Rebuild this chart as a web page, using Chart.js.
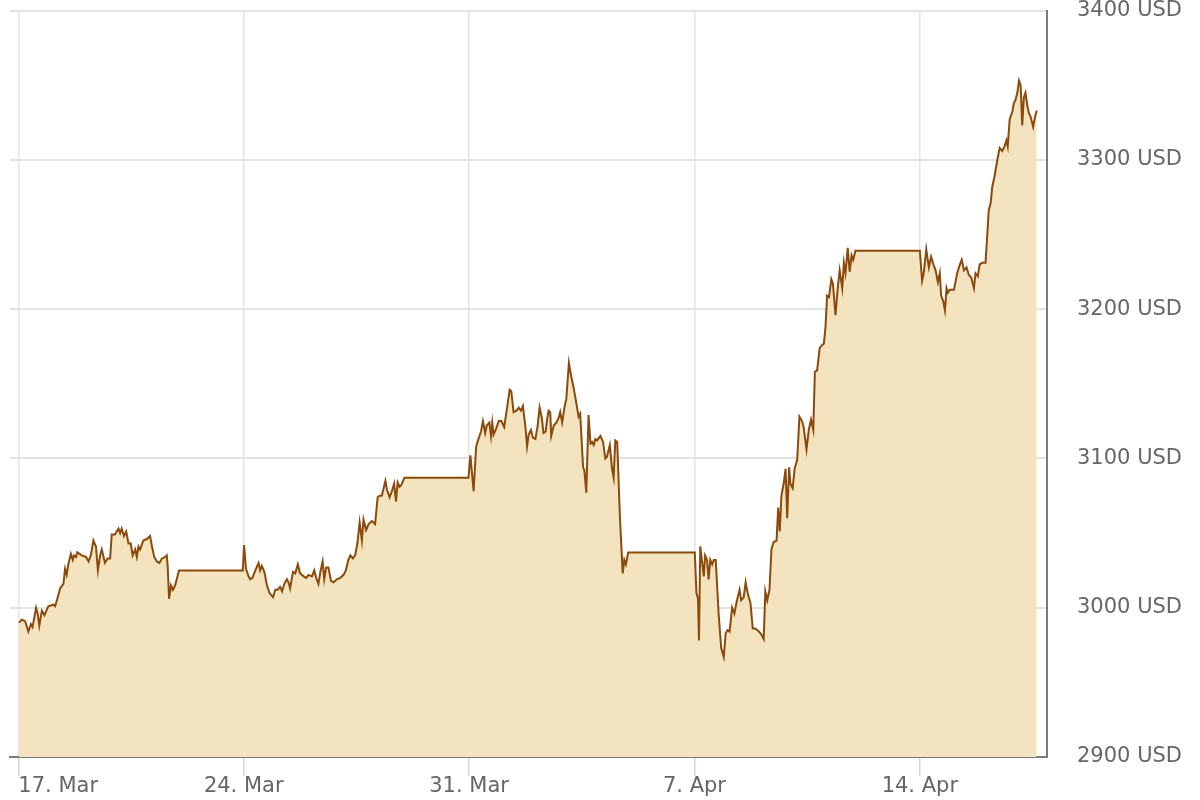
<!DOCTYPE html>
<html>
<head>
<meta charset="utf-8">
<title>Gold price, USD</title>
<script src="https://cdn.jsdelivr.net/npm/chart.js@4.4.1/dist/chart.umd.min.js"></script>
<style>
  html, body { margin: 0; padding: 0; background: #fff; }
  #wrap { width: 1200px; height: 800px; position: relative; }
</style>
</head>
<body>
<div id="wrap"><canvas id="chart"></canvas></div>
<script>
// time in days counted from 17 Mar 00:00, price in USD
const days = [
  0.02, 0.11, 0.21, 0.31, 0.39, 0.44, 0.55, 0.60, 0.65, 0.73,
  0.81, 0.93, 1.09, 1.14, 1.21, 1.30, 1.40, 1.45, 1.50, 1.55,
  1.63, 1.69, 1.73, 1.79, 1.83, 1.97, 2.10, 2.18, 2.25, 2.33,
  2.41, 2.47, 2.54, 2.59, 2.69, 2.77, 2.85, 2.90, 3.00, 3.11,
  3.16, 3.21, 3.28, 3.35, 3.42, 3.49, 3.55, 3.63, 3.68, 3.73,
  3.78, 3.88, 3.99, 4.09, 4.15, 4.22, 4.30, 4.38, 4.46, 4.56,
  4.61, 4.64, 4.68, 4.74, 4.80, 4.87, 4.99, 6.97, 7.01, 7.07,
  7.15, 7.20, 7.27, 7.36, 7.46, 7.51, 7.56, 7.64, 7.72, 7.80,
  7.91, 7.98, 8.05, 8.13, 8.19, 8.26, 8.34, 8.39, 8.44, 8.53,
  8.60, 8.68, 8.75, 8.86, 8.94, 9.01, 9.12, 9.19, 9.25, 9.32,
  9.38, 9.45, 9.50, 9.56, 9.63, 9.71, 9.79, 9.89, 10.00, 10.10,
  10.17, 10.25, 10.31, 10.39, 10.46, 10.53, 10.60, 10.67, 10.72, 10.80,
  10.88, 10.98, 11.08, 11.16, 11.22, 11.29, 11.40, 11.45, 11.53, 11.60,
  11.67, 11.73, 11.78, 11.84, 11.89, 11.99, 13.98, 14.04, 14.09, 14.14,
  14.22, 14.29, 14.37, 14.43, 14.50, 14.55, 14.63, 14.68, 14.72, 14.76,
  14.84, 14.92, 15.00, 15.09, 15.18, 15.26, 15.31, 15.38, 15.47, 15.54,
  15.61, 15.67, 15.75, 15.80, 15.85, 15.92, 15.98, 16.06, 16.13, 16.19,
  16.26, 16.31, 16.38, 16.42, 16.47, 16.52, 16.55, 16.63, 16.71, 16.78,
  16.83, 16.89, 16.96, 17.02, 17.10, 17.17, 17.25, 17.33, 17.40, 17.45,
  17.54, 17.58, 17.64, 17.71, 17.77, 17.82, 17.87, 17.92, 17.97, 18.08,
  18.16, 18.23, 18.28, 18.37, 18.44, 18.49, 18.54, 18.60, 18.68, 18.72,
  18.77, 18.82, 18.87, 18.94, 21.01, 21.06, 21.11, 21.14, 21.18, 21.24,
  21.29, 21.33, 21.39, 21.44, 21.49, 21.55, 21.60, 21.66, 21.75, 21.83,
  21.91, 21.97, 22.03, 22.09, 22.17, 22.24, 22.32, 22.40, 22.45, 22.53,
  22.59, 22.65, 22.74, 22.81, 22.89, 23.00, 23.08, 23.15, 23.20, 23.26,
  23.33, 23.39, 23.46, 23.55, 23.60, 23.65, 23.70, 23.77, 23.83, 23.88,
  23.94, 23.98, 24.05, 24.11, 24.19, 24.26, 24.34, 24.39, 24.48, 24.55,
  24.62, 24.69, 24.74, 24.81, 24.89, 24.97, 25.02, 25.07, 25.12, 25.18,
  25.25, 25.30, 25.38, 25.45, 25.51, 25.59, 25.64, 25.69, 25.76, 25.82,
  25.88, 25.93, 26.00, 28.00, 28.07, 28.12, 28.20, 28.28, 28.35, 28.42,
  28.49, 28.56, 28.62, 28.66, 28.73, 28.78, 28.83, 28.87, 28.93, 29.06,
  29.16, 29.23, 29.30, 29.37, 29.45, 29.52, 29.60, 29.68, 29.73, 29.80,
  29.86, 29.94, 30.04, 30.09, 30.14, 30.20, 30.25, 30.32, 30.40, 30.48,
  30.56, 30.63, 30.69, 30.73, 30.79, 30.87, 30.92, 30.97, 31.03, 31.08,
  31.13, 31.18, 31.23, 31.28, 31.34, 31.39, 31.44, 31.52, 31.57, 31.63
];

const prices = [
  2990, 2992, 2991, 2984, 2989, 2987, 3000, 2996, 2988, 2998,
  2995, 3001, 3002, 3001, 3006, 3013, 3016, 3026, 3022, 3029,
  3036, 3032, 3035, 3034, 3037, 3035, 3034, 3031, 3035, 3045,
  3041, 3025, 3035, 3039, 3030, 3033, 3033, 3049, 3049, 3053,
  3050, 3053, 3048, 3051, 3043, 3043, 3035, 3039, 3034, 3041,
  3039, 3045, 3046, 3048, 3041, 3034, 3031, 3030, 3033, 3034,
  3035, 3027, 3006, 3015, 3012, 3015, 3025, 3025, 3042, 3026,
  3021, 3019, 3020, 3025, 3030, 3025, 3028, 3024, 3015, 3010,
  3007, 3012, 3012, 3014, 3011, 3016, 3019, 3017, 3013, 3024,
  3023, 3029, 3023, 3021, 3020, 3022, 3021, 3025, 3020, 3016,
  3024, 3031, 3019, 3027, 3027, 3018, 3017, 3019, 3020, 3022,
  3025, 3032, 3035, 3033, 3035, 3043, 3057, 3045, 3059, 3052,
  3056, 3058, 3056, 3074, 3075, 3075, 3085, 3079, 3074, 3078,
  3083, 3071, 3084, 3081, 3082, 3087, 3087, 3102, 3090, 3078,
  3108, 3113, 3118, 3125, 3117, 3122, 3124, 3115, 3124, 3116,
  3120, 3125, 3125, 3121, 3134, 3146, 3145, 3131, 3132, 3134,
  3132, 3135, 3121, 3108, 3116, 3119, 3114, 3113, 3122, 3134,
  3127, 3117, 3118, 3126, 3132, 3131, 3115, 3122, 3124, 3127,
  3131, 3124, 3134, 3140, 3164, 3155, 3147, 3137, 3128, 3130,
  3094, 3092, 3077, 3129, 3110, 3111, 3109, 3113, 3112, 3115,
  3111, 3100, 3101, 3109, 3093, 3087, 3112, 3111, 3063, 3045,
  3023, 3032, 3029, 3037, 3037, 3010, 3006, 2978, 3041, 3030,
  3021, 3035, 3032, 3019, 3032, 3029, 3032, 3032, 2996, 2973,
  2967, 2983, 2985, 2984, 3000, 2996, 3005, 3012, 3005, 3007,
  3017, 3010, 3003, 2986, 2986, 2984, 2982, 2979, 3011, 3005,
  3012, 3039, 3044, 3045, 3067, 3051, 3075, 3083, 3093, 3060,
  3094, 3083, 3080, 3093, 3099, 3128, 3125, 3121, 3106, 3119,
  3126, 3119, 3158, 3159, 3174, 3176, 3177, 3188, 3209, 3208,
  3220, 3217, 3196, 3214, 3226, 3214, 3231, 3224, 3241, 3225,
  3236, 3233, 3239, 3239, 3219, 3224, 3240, 3228, 3235, 3230,
  3226, 3218, 3224, 3209, 3205, 3199, 3214, 3211, 3213, 3213,
  3224, 3229, 3233, 3226, 3228, 3223, 3221, 3214, 3224, 3222,
  3230, 3231, 3231, 3248, 3266, 3271, 3282, 3289, 3299, 3308,
  3306, 3309, 3313, 3309, 3327, 3332, 3338, 3340, 3345, 3353,
  3350, 3323, 3342, 3345, 3336, 3331, 3329, 3322, 3328, 3333
];

const tickDays = [0, 7, 14, 21, 28];
const tickLabels = ['17. Mar', '24. Mar', '31. Mar', '7. Apr', '14. Apr'];
const yTicks = [2900, 3000, 3100, 3200, 3300, 3400];
const currency = 'USD';

const xMin = -0.26;
const xMax = 31.95;

const FONT = '"DejaVu Sans", Verdana, sans-serif';
const points = days.map((d, i) => ({ x: d, y: prices[i] }));
const isEdge = (ctx) => ctx.tick && ctx.tick.value === xMax;

new Chart(document.getElementById('chart'), {
    type: 'line',
    data: {
        datasets: [{
            data: points,
            borderColor: '#8b4a0b',
            borderWidth: 2,
            backgroundColor: '#f3e4bf',
            fill: 'start',
            pointRadius: 0,
            tension: 0
        }]
    },
    options: {
        responsive: true,
        maintainAspectRatio: false,
        animation: false,
        layout: {
            padding: { left: 10, right: 18, top: 0, bottom: 3 }
        },
        plugins: {
            legend: { display: false },
            tooltip: { enabled: false }
        },
        scales: {
            x: {
                type: 'linear',
                min: xMin,
                max: xMax,
                afterBuildTicks: (scale) => {
                    scale.ticks = tickDays.map(v => ({ value: v })).concat([{ value: xMax }]);
                },
                ticks: {
                    align: 'inner',
                    autoSkip: false,
                    maxRotation: 0,
                    padding: 0,
                    color: '#666666',
                    font: { family: FONT, size: 21, lineHeight: 1 },
                    callback: (value) => {
                        const i = tickDays.indexOf(value);
                        return i >= 0 ? tickLabels[i] : '';
                    }
                },
                grid: {
                    color: (ctx) => isEdge(ctx) ? 'rgba(0,0,0,0)' : '#e3e3e3',
                    tickColor: (ctx) => isEdge(ctx) ? 'rgba(0,0,0,0)' : '#ccd6eb',
                    lineWidth: 1.5,
                    tickLength: 19
                },
                border: { color: '#7a7a7a', width: 2 }
            },
            y: {
                position: 'right',
                min: yTicks[0],
                max: yTicks[yTicks.length - 1],
                afterBuildTicks: (scale) => {
                    scale.ticks = yTicks.map(v => ({ value: v }));
                },
                ticks: {
                    padding: 0,
                    color: '#666666',
                    font: { family: FONT, size: 21, lineHeight: 1 },
                    callback: (value) => value + ' ' + currency
                },
                grid: {
                    color: '#e3e3e3',
                    lineWidth: 2,
                    drawTicks: true,
                    tickLength: 30,
                    tickColor: 'rgba(0,0,0,0)'
                },
                border: { color: '#7a7a7a', width: 2 }
            }
        }
    }
});
</script>
</body>
</html>
